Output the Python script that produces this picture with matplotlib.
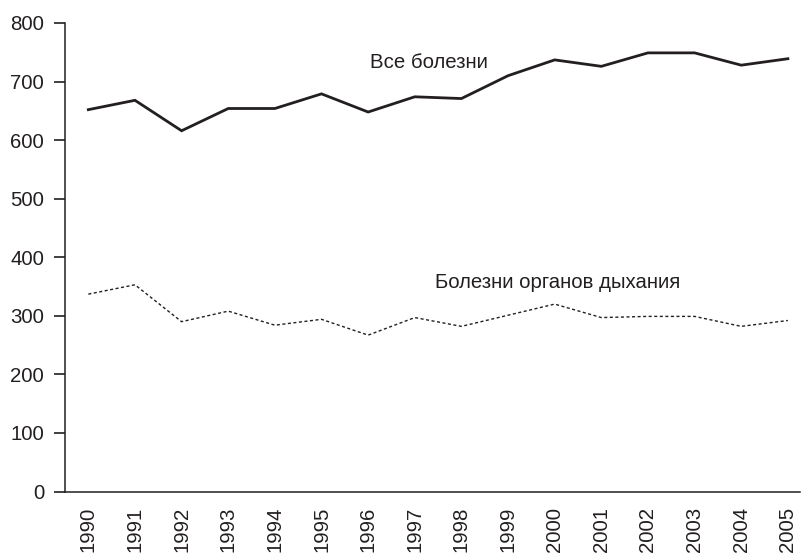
import matplotlib
matplotlib.use("Agg")
import matplotlib.pyplot as plt

plt.rcParams['font.family'] = ['Liberation Sans', 'DejaVu Sans']

years = [str(y) for y in range(1990, 2006)]
all_diseases = [652, 668, 616, 654, 654, 679, 648, 674, 671, 710, 737, 726, 749, 749, 728, 739]
respiratory = [337, 353, 290, 308, 284, 294, 267, 297, 282, 301, 320, 297, 299, 299, 282, 292]
label_all = "Все болезни"
label_resp = "Болезни органов дыхания"
yticks = [0, 100, 200, 300, 400, 500, 600, 700, 800]

ink = "#231f20"
fs = 14.7
fig = plt.figure(figsize=(8.02, 5.53), dpi=100)
ax = fig.add_axes([65/802, 61.5/553, 735/802, 468.5/553])

x = list(range(len(years)))
ax.plot(x, all_diseases, color=ink, lw=2.0, solid_joinstyle='miter')
ax.plot(x, respiratory, color=ink, lw=1.0, linestyle=(0, (2.2, 1.8)))

ax.set_xlim(-0.5, 15.26)
ax.set_ylim(0, 800)
ax.set_yticks(yticks)
ax.set_xticks(x)
ax.set_xticklabels(years, rotation=90, fontsize=fs, color=ink)
ax.tick_params(axis='x', length=0, pad=11)
ax.tick_params(axis='y', length=8, width=1.2, color=ink, labelsize=fs,
               labelcolor=ink, pad=7)
for s in ['top', 'right']:
    ax.spines[s].set_visible(False)
for s in ['left', 'bottom']:
    ax.spines[s].set_color(ink)
    ax.spines[s].set_linewidth(1.1)

ax.text(6.04, 733, label_all, fontsize=fs, color=ink, ha='left', va='center')
ax.text(7.43, 357, label_resp, fontsize=fs, color=ink, ha='left', va='center')

fig.savefig("out.png", dpi=100)
